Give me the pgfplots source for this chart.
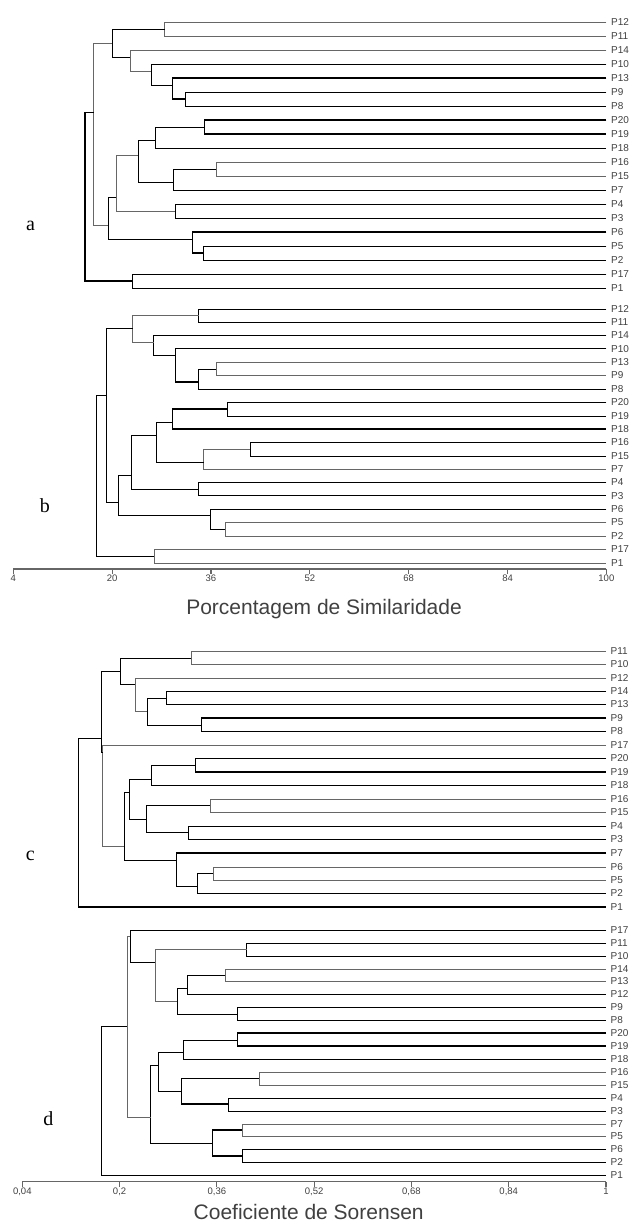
\documentclass[border=0pt]{standalone}
\usepackage{fontspec}
\setmainfont{Liberation Sans}
\newfontfamily\seriffont{Liberation Serif}
\usepackage{pgfplots}
\pgfplotsset{compat=1.18}
\definecolor{lg}{HTML}{666666}
\definecolor{tg}{HTML}{404040}
\tikzset{
 leaf/.style={anchor=west, inner sep=0pt, xshift=4.5pt, font=\fontsize{10}{12}\selectfont, text=tg},
 panel/.style={anchor=base, inner sep=0pt, font=\seriffont\fontsize{20}{24}\selectfont, text=black},
 ttl/.style={anchor=base, inner sep=0pt, font=\fontsize{21}{25}\selectfont, text=tg},
}
\pgfplotsset{
 dendro/.style={
   scale only axis, anchor=south west,
   axis x line=bottom, axis y line=none,
   axis line style={lg, line width=1.1pt, -},
   tick align=outside, major tick length=5pt,
   xtick style={lg, line width=1.1pt},
   xticklabel style={font=\fontsize{9.5}{11}\selectfont, text=tg, inner sep=1pt},
   clip=false,
   cycle list={{lg, solid, line width=1.1pt, mark=none}},
 },
}
\begin{document}
\begin{tikzpicture}[x=1pt,y=1pt]
\useasboundingbox (0,0) rectangle (632,-1227);
% ---------------- top: a and b ----------------
\begin{axis}[dendro, at={(13.3pt,-569pt)}, width=593.1pt, height=559pt,
  xmin=4, xmax=100, ymin=-569, ymax=-10,
  xtick={4,20,36,52,68,84,100}, xticklabels={4,20,36,52,68,84,100}]
% a
\addplot coordinates {(100,-22) (28.5,-22) (28.5,-36) (100,-36)};
\addplot coordinates {(100,-92) (31.9,-92) (31.9,-106) (100,-106)};
\addplot coordinates {(100,-78) (29.7,-78) (29.7,-99) (31.9,-99)};
\addplot coordinates {(100,-64) (26.3,-64) (26.3,-85) (29.7,-85)};
\addplot coordinates {(100,-50) (22.9,-50) (22.9,-71) (26.3,-71)};
\addplot coordinates {(28.5,-29) (20.0,-29) (20.0,-56.7) (22.9,-56.7)};
\addplot coordinates {(100,-120) (34.9,-120) (34.9,-134) (100,-134)};
\addplot coordinates {(34.9,-126.7) (27.0,-126.7) (27.0,-148) (100,-148)};
\addplot coordinates {(100,-162) (36.8,-162) (36.8,-176) (100,-176)};
\addplot coordinates {(36.8,-169) (29.9,-169) (29.9,-190) (100,-190)};
\addplot coordinates {(27.0,-140.7) (24.2,-140.7) (24.2,-182.7) (29.9,-182.7)};
\addplot coordinates {(100,-204) (30.2,-204) (30.2,-218) (100,-218)};
\addplot coordinates {(24.2,-155) (20.7,-155) (20.7,-210.7) (30.2,-210.7)};
\addplot coordinates {(100,-246) (34.8,-246) (34.8,-260) (100,-260)};
\addplot coordinates {(100,-232) (33.0,-232) (33.0,-253) (34.8,-253)};
\addplot coordinates {(20.7,-196.7) (19.3,-196.7) (19.3,-238.7) (33.0,-238.7)};
\addplot coordinates {(20.0,-43) (17.0,-43) (17.0,-225) (19.3,-225)};
\addplot coordinates {(100,-274) (23.3,-274) (23.3,-288) (100,-288)};
\addplot coordinates {(17.0,-112.7) (15.6,-112.7) (15.6,-281) (23.3,-281)};
% b
\addplot coordinates {(100,-308.7) (34.0,-308.7) (34.0,-321.7) (100,-321.7)};
\addplot coordinates {(100,-362) (36.8,-362) (36.8,-375.3) (100,-375.3)};
\addplot coordinates {(36.8,-368.7) (34.0,-368.7) (34.0,-388.7) (100,-388.7)};
\addplot coordinates {(100,-348.7) (30.3,-348.7) (30.3,-382) (34.0,-382)};
\addplot coordinates {(100,-335.3) (26.7,-335.3) (26.7,-355.3) (30.3,-355.3)};
\addplot coordinates {(34.0,-315) (23.3,-315) (23.3,-341.7) (26.7,-341.7)};
\addplot coordinates {(100,-402.3) (38.7,-402.3) (38.7,-415.7) (100,-415.7)};
\addplot coordinates {(38.7,-409) (29.7,-409) (29.7,-429) (100,-429)};
\addplot coordinates {(100,-442.3) (42.3,-442.3) (42.3,-455.7) (100,-455.7)};
\addplot coordinates {(42.3,-449) (34.8,-449) (34.8,-469) (100,-469)};
\addplot coordinates {(29.7,-422) (27.2,-422) (27.2,-462.3) (34.8,-462.3)};
\addplot coordinates {(100,-482.3) (34.0,-482.3) (34.0,-495.7) (100,-495.7)};
\addplot coordinates {(27.2,-435.3) (23.1,-435.3) (23.1,-489) (34.0,-489)};
\addplot coordinates {(100,-522.3) (38.3,-522.3) (38.3,-535.7) (100,-535.7)};
\addplot coordinates {(100,-509) (35.8,-509) (35.8,-529) (38.3,-529)};
\addplot coordinates {(23.1,-475.7) (21.1,-475.7) (21.1,-515.7) (35.8,-515.7)};
\addplot coordinates {(23.3,-328.3) (19.0,-328.3) (19.0,-502.3) (21.1,-502.3)};
\addplot coordinates {(100,-549.3) (26.8,-549.3) (26.8,-562.7) (100,-562.7)};
\addplot coordinates {(19.0,-395.3) (17.4,-395.3) (17.4,-556) (26.8,-556)};
% leaf labels a
\node[leaf] at (axis cs:100,-22) {P12};
\node[leaf] at (axis cs:100,-36) {P11};
\node[leaf] at (axis cs:100,-50) {P14};
\node[leaf] at (axis cs:100,-64) {P10};
\node[leaf] at (axis cs:100,-78) {P13};
\node[leaf] at (axis cs:100,-92) {P9};
\node[leaf] at (axis cs:100,-106) {P8};
\node[leaf] at (axis cs:100,-120) {P20};
\node[leaf] at (axis cs:100,-134) {P19};
\node[leaf] at (axis cs:100,-148) {P18};
\node[leaf] at (axis cs:100,-162) {P16};
\node[leaf] at (axis cs:100,-176) {P15};
\node[leaf] at (axis cs:100,-190) {P7};
\node[leaf] at (axis cs:100,-204) {P4};
\node[leaf] at (axis cs:100,-218) {P3};
\node[leaf] at (axis cs:100,-232) {P6};
\node[leaf] at (axis cs:100,-246) {P5};
\node[leaf] at (axis cs:100,-260) {P2};
\node[leaf] at (axis cs:100,-274) {P17};
\node[leaf] at (axis cs:100,-288) {P1};
% leaf labels b
\node[leaf] at (axis cs:100,-308.7) {P12};
\node[leaf] at (axis cs:100,-321.7) {P11};
\node[leaf] at (axis cs:100,-335.3) {P14};
\node[leaf] at (axis cs:100,-348.7) {P10};
\node[leaf] at (axis cs:100,-362) {P13};
\node[leaf] at (axis cs:100,-375.3) {P9};
\node[leaf] at (axis cs:100,-388.7) {P8};
\node[leaf] at (axis cs:100,-402.3) {P20};
\node[leaf] at (axis cs:100,-415.7) {P19};
\node[leaf] at (axis cs:100,-429) {P18};
\node[leaf] at (axis cs:100,-442.3) {P16};
\node[leaf] at (axis cs:100,-455.7) {P15};
\node[leaf] at (axis cs:100,-469) {P7};
\node[leaf] at (axis cs:100,-482.3) {P4};
\node[leaf] at (axis cs:100,-495.7) {P3};
\node[leaf] at (axis cs:100,-509) {P6};
\node[leaf] at (axis cs:100,-522.3) {P5};
\node[leaf] at (axis cs:100,-535.7) {P2};
\node[leaf] at (axis cs:100,-549.3) {P17};
\node[leaf] at (axis cs:100,-562.7) {P1};
% panel letters and title
\node[panel] at (axis cs:6.78,-230) {a};
\node[panel] at (axis cs:9.13,-512.7) {b};
\node[ttl] at (axis cs:54.3,-614) {Porcentagem de Similaridade};
\end{axis}
% ---------------- bottom: c and d ----------------
\begin{axis}[dendro, at={(22.3pt,-1181.7pt)}, width=583.7pt, height=581.7pt,
  xmin=0.04, xmax=1, ymin=-1181.7, ymax=-600,
  xtick={0.04,0.2,0.36,0.52,0.68,0.84,1},
  xticklabels={{0,04},{0,2},{0,36},{0,52},{0,68},{0,84},{1}}]
% c
\addplot coordinates {(1,-650.7) (0.318,-650.7) (0.318,-664) (1,-664)};
\addplot coordinates {(1,-691) (0.276,-691) (0.276,-704.3) (1,-704.3)};
\addplot coordinates {(1,-718) (0.334,-718) (0.334,-731.3) (1,-731.3)};
\addplot coordinates {(0.276,-697.7) (0.245,-697.7) (0.245,-724.7) (0.334,-724.7)};
\addplot coordinates {(1,-677.7) (0.225,-677.7) (0.225,-711) (0.245,-711)};
\addplot coordinates {(0.318,-657.7) (0.201,-657.7) (0.201,-684.3) (0.225,-684.3)};
\addplot coordinates {(1,-758.3) (0.325,-758.3) (0.325,-772) (1,-772)};
\addplot coordinates {(0.325,-765) (0.252,-765) (0.252,-785.3) (1,-785.3)};
\addplot coordinates {(1,-799) (0.349,-799) (0.349,-812.3) (1,-812.3)};
\addplot coordinates {(1,-826) (0.313,-826) (0.313,-839.3) (1,-839.3)};
\addplot coordinates {(0.349,-805.7) (0.245,-805.7) (0.245,-832.7) (0.313,-832.7)};
\addplot coordinates {(0.252,-778.7) (0.215,-778.7) (0.215,-819.3) (0.245,-819.3)};
\addplot coordinates {(1,-866.7) (0.354,-866.7) (0.354,-880) (1,-880)};
\addplot coordinates {(0.354,-873.3) (0.327,-873.3) (0.327,-893.3) (1,-893.3)};
\addplot coordinates {(1,-853) (0.293,-853) (0.293,-886.7) (0.327,-886.7)};
\addplot coordinates {(0.215,-792.3) (0.207,-792.3) (0.207,-859.7) (0.293,-859.7)};
\addplot coordinates {(1,-745) (0.172,-745) (0.172,-846.3) (0.207,-846.3)};
\addplot coordinates {(0.201,-670.7) (0.169,-670.7) (0.169,-751.7) (0.172,-751.7)};
\addplot coordinates {(0.169,-738.3) (0.132,-738.3) (0.132,-907) (1,-907)};
% d
\addplot coordinates {(1,-942.7) (0.409,-942.7) (0.409,-955.7) (1,-955.7)};
\addplot coordinates {(1,-968.7) (0.373,-968.7) (0.373,-981.3) (1,-981.3)};
\addplot coordinates {(0.373,-975) (0.312,-975) (0.312,-994.3) (1,-994.3)};
\addplot coordinates {(1,-1007.3) (0.394,-1007.3) (0.394,-1020.3) (1,-1020.3)};
\addplot coordinates {(0.312,-987.7) (0.295,-987.7) (0.295,-1013.7) (0.394,-1013.7)};
\addplot coordinates {(0.409,-949) (0.259,-949) (0.259,-1000.7) (0.295,-1000.7)};
\addplot coordinates {(1,-929.7) (0.217,-929.7) (0.217,-962) (0.259,-962)};
\addplot coordinates {(1,-1033) (0.394,-1033) (0.394,-1046) (1,-1046)};
\addplot coordinates {(0.394,-1039.7) (0.305,-1039.7) (0.305,-1059) (1,-1059)};
\addplot coordinates {(1,-1072) (0.429,-1072) (0.429,-1084.7) (1,-1084.7)};
\addplot coordinates {(1,-1097.7) (0.378,-1097.7) (0.378,-1110.7) (1,-1110.7)};
\addplot coordinates {(0.429,-1078.3) (0.302,-1078.3) (0.302,-1104) (0.378,-1104)};
\addplot coordinates {(0.305,-1052.3) (0.264,-1052.3) (0.264,-1091.3) (0.302,-1091.3)};
\addplot coordinates {(1,-1123.7) (0.401,-1123.7) (0.401,-1136.3) (1,-1136.3)};
\addplot coordinates {(1,-1149.3) (0.401,-1149.3) (0.401,-1162.3) (1,-1162.3)};
\addplot coordinates {(0.401,-1130) (0.353,-1130) (0.353,-1156) (0.401,-1156)};
\addplot coordinates {(0.264,-1065.3) (0.251,-1065.3) (0.251,-1143) (0.353,-1143)};
\addplot coordinates {(0.217,-936) (0.212,-936) (0.212,-1117) (0.251,-1117)};
\addplot coordinates {(0.212,-1026) (0.170,-1026) (0.170,-1175.3) (1,-1175.3)};
% leaf labels c
\node[leaf] at (axis cs:1,-650.7) {P11};
\node[leaf] at (axis cs:1,-664) {P10};
\node[leaf] at (axis cs:1,-677.7) {P12};
\node[leaf] at (axis cs:1,-691) {P14};
\node[leaf] at (axis cs:1,-704.3) {P13};
\node[leaf] at (axis cs:1,-718) {P9};
\node[leaf] at (axis cs:1,-731.3) {P8};
\node[leaf] at (axis cs:1,-745) {P17};
\node[leaf] at (axis cs:1,-758.3) {P20};
\node[leaf] at (axis cs:1,-772) {P19};
\node[leaf] at (axis cs:1,-785.3) {P18};
\node[leaf] at (axis cs:1,-799) {P16};
\node[leaf] at (axis cs:1,-812.3) {P15};
\node[leaf] at (axis cs:1,-826) {P4};
\node[leaf] at (axis cs:1,-839.3) {P3};
\node[leaf] at (axis cs:1,-853) {P7};
\node[leaf] at (axis cs:1,-866.7) {P6};
\node[leaf] at (axis cs:1,-880) {P5};
\node[leaf] at (axis cs:1,-893.3) {P2};
\node[leaf] at (axis cs:1,-907) {P1};
% leaf labels d
\node[leaf] at (axis cs:1,-929.7) {P17};
\node[leaf] at (axis cs:1,-942.7) {P11};
\node[leaf] at (axis cs:1,-955.7) {P10};
\node[leaf] at (axis cs:1,-968.7) {P14};
\node[leaf] at (axis cs:1,-981.3) {P13};
\node[leaf] at (axis cs:1,-994.3) {P12};
\node[leaf] at (axis cs:1,-1007.3) {P9};
\node[leaf] at (axis cs:1,-1020.3) {P8};
\node[leaf] at (axis cs:1,-1033) {P20};
\node[leaf] at (axis cs:1,-1046) {P19};
\node[leaf] at (axis cs:1,-1059) {P18};
\node[leaf] at (axis cs:1,-1072) {P16};
\node[leaf] at (axis cs:1,-1084.7) {P15};
\node[leaf] at (axis cs:1,-1097.7) {P4};
\node[leaf] at (axis cs:1,-1110.7) {P3};
\node[leaf] at (axis cs:1,-1123.7) {P7};
\node[leaf] at (axis cs:1,-1136.3) {P5};
\node[leaf] at (axis cs:1,-1149.3) {P6};
\node[leaf] at (axis cs:1,-1162.3) {P2};
\node[leaf] at (axis cs:1,-1175.3) {P1};
% panel letters and title
\node[panel] at (axis cs:0.053,-860) {c};
\node[panel] at (axis cs:0.083,-1125) {d};
\node[ttl] at (axis cs:0.511,-1219) {Coeficiente de Sorensen};
\end{axis}
\end{tikzpicture}
\end{document}
